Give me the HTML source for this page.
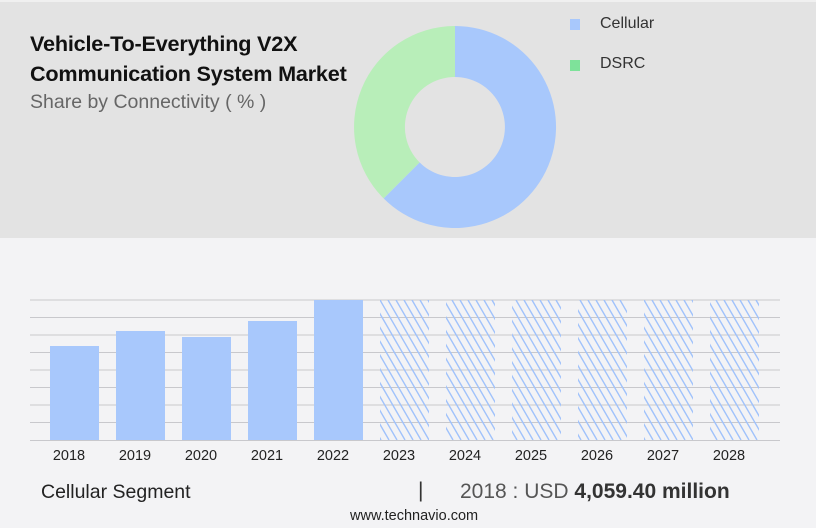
<!DOCTYPE html>
<html><head><meta charset="utf-8"><style>
body{margin:0;width:816px;height:528px;overflow:hidden;background:#f3f3f5;font-family:"Liberation Sans",sans-serif;position:relative}
.top{position:absolute;left:0;top:0;width:816px;height:238px;background:#e3e3e3;border-top:2px solid #f0f0f0;box-sizing:border-box}
.t{position:absolute;white-space:nowrap}
</style></head><body>
<div class="top"></div>
<div class="t" style="left:30px;top:30px;font-size:21px;font-weight:bold;color:#111;line-height:30px;letter-spacing:-0.2px;transform:scaleX(1.03);transform-origin:left">Vehicle-To-Everything V2X<br>Communication System Market</div>
<div class="t" style="left:30px;top:91px;font-size:19.5px;color:#666">Share by Connectivity ( % )</div>
<div class="t" style="left:570px;top:19px;width:10px;height:11px;background:#a8c8fc"></div>
<div class="t" style="left:600px;top:15px;font-size:16px;color:#333">Cellular</div>
<div class="t" style="left:570px;top:60px;width:10px;height:11px;background:#7ee29a"></div>
<div class="t" style="left:600px;top:55px;font-size:16px;color:#333">DSRC</div>
<svg style="position:absolute;left:0;top:0" width="816" height="528">
<defs>
<clipPath id="c"><rect x="0" y="0" width="816" height="228"/></clipPath>
<clipPath id="b">
<rect x="380" y="300" width="49" height="140"/><rect x="446" y="300" width="49" height="140"/><rect x="512" y="300" width="49" height="140"/><rect x="578" y="300" width="49" height="140"/><rect x="644" y="300" width="49" height="140"/><rect x="710" y="300" width="49" height="140"/>
</clipPath>
</defs>
<g clip-path="url(#c)">
<path d="M455,26 A101,101 0 1 1 383.6,198.4 L419.6,162.4 A50,50 0 1 0 455,77 Z" fill="#a8c8fc"/>
<path d="M383.6,198.4 A101,101 0 0 1 455,26 L455,77 A50,50 0 0 0 419.6,162.4 Z" fill="#b8eeb9"/>
</g>
<g stroke="#c8c8cc" stroke-width="1">
<line x1="30" x2="780" y1="300" y2="300"/><line x1="30" x2="780" y1="317.5" y2="317.5"/><line x1="30" x2="780" y1="335" y2="335"/><line x1="30" x2="780" y1="352.5" y2="352.5"/><line x1="30" x2="780" y1="370" y2="370"/><line x1="30" x2="780" y1="387.5" y2="387.5"/><line x1="30" x2="780" y1="405" y2="405"/><line x1="30" x2="780" y1="422.5" y2="422.5"/><line x1="30" x2="780" y1="440.5" y2="440.5"/>
</g>
<g fill="#a8c8fc">
<rect x="50" y="346" width="49" height="94"/><rect x="116" y="331" width="49" height="109"/><rect x="182" y="337" width="49" height="103"/><rect x="248" y="321" width="49" height="119"/><rect x="314" y="300" width="49" height="140"/>
</g>
<path clip-path="url(#b)" stroke="#a0c2fb" stroke-width="1.4" fill="none" d="M292 300l81 140M300 300l81 140M308 300l81 140M316 300l81 140M324 300l81 140M332 300l81 140M340 300l81 140M348 300l81 140M356 300l81 140M364 300l81 140M372 300l81 140M380 300l81 140M388 300l81 140M396 300l81 140M404 300l81 140M412 300l81 140M420 300l81 140M428 300l81 140M436 300l81 140M444 300l81 140M452 300l81 140M460 300l81 140M468 300l81 140M476 300l81 140M484 300l81 140M492 300l81 140M500 300l81 140M508 300l81 140M516 300l81 140M524 300l81 140M532 300l81 140M540 300l81 140M548 300l81 140M556 300l81 140M564 300l81 140M572 300l81 140M580 300l81 140M588 300l81 140M596 300l81 140M604 300l81 140M612 300l81 140M620 300l81 140M628 300l81 140M636 300l81 140M644 300l81 140M652 300l81 140M660 300l81 140M668 300l81 140M676 300l81 140M684 300l81 140M692 300l81 140M700 300l81 140M708 300l81 140M716 300l81 140M724 300l81 140M732 300l81 140M740 300l81 140M748 300l81 140M756 300l81 140"/>
<g font-family="Liberation Sans,sans-serif" font-size="14.5" fill="#222" text-anchor="middle">
<text x="69" y="460">2018</text><text x="135" y="460">2019</text><text x="201" y="460">2020</text><text x="267" y="460">2021</text><text x="333" y="460">2022</text><text x="399" y="460">2023</text><text x="465" y="460">2024</text><text x="531" y="460">2025</text><text x="597" y="460">2026</text><text x="663" y="460">2027</text><text x="729" y="460">2028</text>
</g>
</svg>
<div class="t" style="left:41px;top:481px;font-size:19.5px;color:#222">Cellular Segment</div>
<div class="t" style="left:418px;top:479px;font-size:21px;color:#333">|</div>
<div class="t" style="left:460px;top:480px;font-size:21px;color:#555">2018 : USD <b style="color:#333">4,059.40 million</b></div>
<div class="t" style="left:350px;top:508px;font-size:14.5px;color:#222">www.technavio.com</div>
</body></html>
